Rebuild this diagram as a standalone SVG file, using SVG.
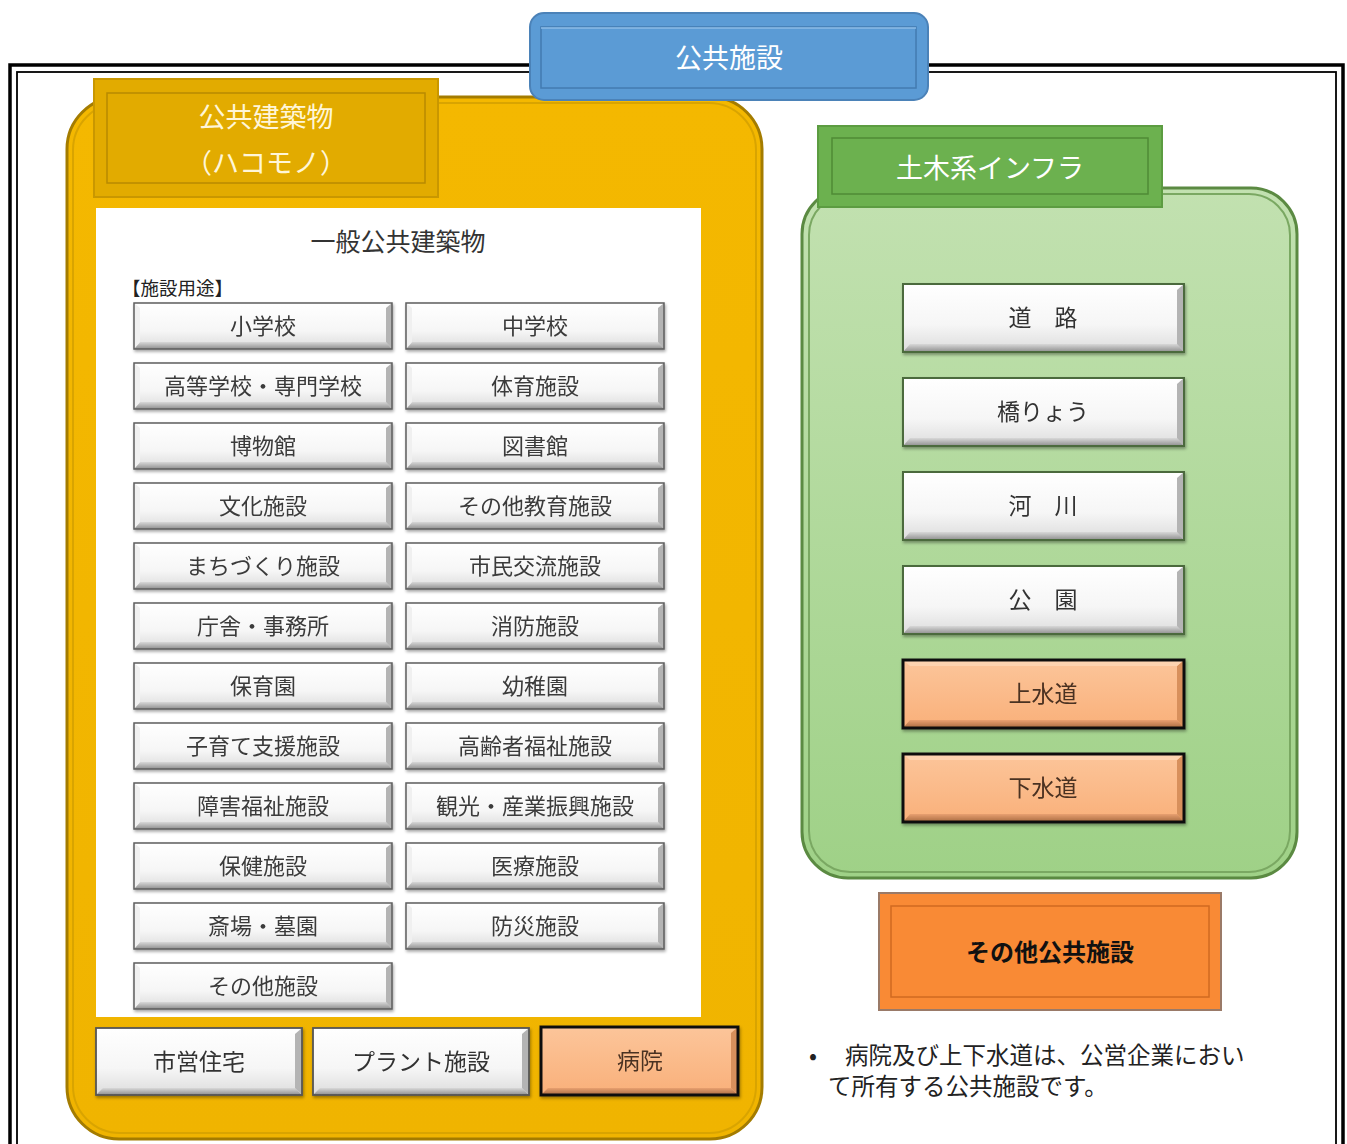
<svg xmlns="http://www.w3.org/2000/svg" xmlns:xlink="http://www.w3.org/1999/xlink" width="1347" height="1144" viewBox="0 0 1347 1144">
<style>
  text { font-family: "Noto Sans CJK JP", "Noto Sans", sans-serif; text-anchor: middle; dominant-baseline: central; transform: translateY(-2px); }
  .btxt { font-size: 22px; fill: #3a3a3a; }
  .rtxt { font-size: 23px; fill: #333; }
  .htxt { font-size: 27px; fill: #ffffff; }
  .ytxt { font-size: 27px; fill: #fff6d8; }
</style>
<defs>
  <linearGradient id="gBody" x1="0" y1="0" x2="0" y2="1">
    <stop offset="0" stop-color="#ffffff"/>
    <stop offset="0.6" stop-color="#f6f6f6"/>
    <stop offset="1" stop-color="#dcdcdc"/>
  </linearGradient>
  <linearGradient id="gBot" x1="0" y1="0" x2="0" y2="1">
    <stop offset="0" stop-color="#d8d8d8"/>
    <stop offset="1" stop-color="#8e8e8e"/>
  </linearGradient>
  <linearGradient id="gPeach" x1="0" y1="0" x2="0" y2="1">
    <stop offset="0" stop-color="#fcc59a"/>
    <stop offset="1" stop-color="#f9b07a"/>
  </linearGradient>
  <linearGradient id="gPeachBot" x1="0" y1="0" x2="0" y2="1">
    <stop offset="0" stop-color="#e8a070"/>
    <stop offset="1" stop-color="#a86a40"/>
  </linearGradient>
  <linearGradient id="gGreen" x1="0" y1="0" x2="0" y2="1">
    <stop offset="0" stop-color="#c2e1b0"/>
    <stop offset="1" stop-color="#9fd187"/>
  </linearGradient>
  <linearGradient id="gYellow" x1="0" y1="0" x2="0" y2="1">
    <stop offset="0" stop-color="#f4b800"/>
    <stop offset="1" stop-color="#f0b400"/>
  </linearGradient>
  <filter id="sh" x="-10%" y="-20%" width="120%" height="150%">
    <feDropShadow dx="1" dy="2" stdDeviation="1.5" flood-color="#000" flood-opacity="0.35"/>
  </filter>
  <g id="btnG">
    <rect width="258" height="46" fill="url(#gBody)"/>
    <polygon points="0,46 6,39 252,39 258,46" fill="url(#gBot)"/>
    <polygon points="258,0 252,5 252,39 258,46" fill="#b4b4b4"/>
    <polygon points="0,0 6,5 6,39 0,46" fill="#f0f0f0"/>
    <rect width="258" height="46" fill="none" stroke="#5e5e5e" stroke-width="1.5"/>
  </g>
  <g id="btnR">
    <rect width="281" height="68" fill="url(#gBody)"/>
    <polygon points="0,68 7,60 274,60 281,68" fill="url(#gBot)"/>
    <polygon points="281,0 274,6 274,60 281,68" fill="#b4b4b4"/>
    <rect width="281" height="68" fill="none" stroke="#4b6a3c" stroke-width="2"/>
  </g>
  <g id="btnP">
    <rect width="281" height="68" fill="url(#gPeach)"/>
    <polygon points="0,68 7,60 274,60 281,68" fill="url(#gPeachBot)"/>
    <polygon points="281,0 274,6 274,60 281,68" fill="#d8905c"/>
    <polygon points="0,0 7,6 274,6 281,0" fill="#fdd3b0"/>
    <rect width="281" height="68" fill="none" stroke="#111" stroke-width="3"/>
  </g>
</defs>

<rect width="1347" height="1144" fill="#ffffff"/>

<!-- outer double frame -->
<g id="frame" fill="none" stroke="#000">
  <rect x="10" y="65" width="1333" height="1100" stroke-width="3.5"/>
  <rect x="17" y="72" width="1319" height="1090" stroke-width="1.8"/>
</g>

<!-- yellow panel: 公共建築物 -->
<g id="panel-hakomono">
  <rect x="67" y="97" width="695" height="1042" rx="52" fill="url(#gYellow)" stroke="#a47c00" stroke-width="3"/>
  <rect x="73" y="103" width="683" height="1030" rx="47" fill="none" stroke="#d9a400" stroke-width="2"/>
</g>

<g id="header-hakomono">
  <rect x="94" y="79" width="344" height="118" fill="#e2ab00" stroke="#c99700" stroke-width="2"/>
  <rect x="107" y="93" width="318" height="90" fill="none" stroke="#b88a00" stroke-width="1.5"/>
  <text class="ytxt" x="266" y="117">公共建築物</text>
  <text class="ytxt" x="266" y="163">（ハコモノ）</text>
</g>

<g id="panel-general">
  <rect x="96" y="208" width="605" height="809" fill="#ffffff"/>
  <text x="398" y="242" style="font-size:25px;fill:#333">一般公共建築物</text>
  <text x="122" y="289" style="font-size:18.5px;fill:#222;text-anchor:start">【施設用途】</text>
</g>

<g id="facility-buttons" filter="url(#sh)">
  <g id="b-shogakko"><use href="#btnG" x="134" y="303"/><text class="btxt" x="263" y="326">小学校</text></g>
  <g id="b-chugakko"><use href="#btnG" x="406" y="303"/><text class="btxt" x="535" y="326">中学校</text></g>
  <g id="b-koto"><use href="#btnG" x="134" y="363"/><text class="btxt" x="263" y="386">高等学校・専門学校</text></g>
  <g id="b-taiiku"><use href="#btnG" x="406" y="363"/><text class="btxt" x="535" y="386">体育施設</text></g>
  <g id="b-hakubutsu"><use href="#btnG" x="134" y="423"/><text class="btxt" x="263" y="446">博物館</text></g>
  <g id="b-tosho"><use href="#btnG" x="406" y="423"/><text class="btxt" x="535" y="446">図書館</text></g>
  <g id="b-bunka"><use href="#btnG" x="134" y="483"/><text class="btxt" x="263" y="506">文化施設</text></g>
  <g id="b-kyoiku"><use href="#btnG" x="406" y="483"/><text class="btxt" x="535" y="506">その他教育施設</text></g>
  <g id="b-machi"><use href="#btnG" x="134" y="543"/><text class="btxt" x="263" y="566">まちづくり施設</text></g>
  <g id="b-shimin"><use href="#btnG" x="406" y="543"/><text class="btxt" x="535" y="566">市民交流施設</text></g>
  <g id="b-chosha"><use href="#btnG" x="134" y="603"/><text class="btxt" x="263" y="626">庁舎・事務所</text></g>
  <g id="b-shobo"><use href="#btnG" x="406" y="603"/><text class="btxt" x="535" y="626">消防施設</text></g>
  <g id="b-hoiku"><use href="#btnG" x="134" y="663"/><text class="btxt" x="263" y="686">保育園</text></g>
  <g id="b-yochi"><use href="#btnG" x="406" y="663"/><text class="btxt" x="535" y="686">幼稚園</text></g>
  <g id="b-kosodate"><use href="#btnG" x="134" y="723"/><text class="btxt" x="263" y="746">子育て支援施設</text></g>
  <g id="b-koreisha"><use href="#btnG" x="406" y="723"/><text class="btxt" x="535" y="746">高齢者福祉施設</text></g>
  <g id="b-shogai"><use href="#btnG" x="134" y="783"/><text class="btxt" x="263" y="806">障害福祉施設</text></g>
  <g id="b-kanko"><use href="#btnG" x="406" y="783"/><text class="btxt" x="535" y="806">観光・産業振興施設</text></g>
  <g id="b-hoken"><use href="#btnG" x="134" y="843"/><text class="btxt" x="263" y="866">保健施設</text></g>
  <g id="b-iryo"><use href="#btnG" x="406" y="843"/><text class="btxt" x="535" y="866">医療施設</text></g>
  <g id="b-saijo"><use href="#btnG" x="134" y="903"/><text class="btxt" x="263" y="926">斎場・墓園</text></g>
  <g id="b-bosai"><use href="#btnG" x="406" y="903"/><text class="btxt" x="535" y="926">防災施設</text></g>
  <g id="b-sonota"><use href="#btnG" x="134" y="963"/><text class="btxt" x="263" y="986">その他施設</text></g>
</g>

<g id="bottom-buttons" filter="url(#sh)">
  <g id="b-shiei">
    <rect x="96" y="1028" width="206" height="67" fill="url(#gBody)"/>
    <polygon points="96,1095 103,1088 295,1088 302,1095" fill="url(#gBot)"/>
    <polygon points="302,1028 295,1034 295,1088 302,1095" fill="#b4b4b4"/>
    <rect x="96" y="1028" width="206" height="67" fill="none" stroke="#555" stroke-width="1.8"/>
    <text x="199" y="1062" style="font-size:23px;fill:#333">市営住宅</text>
  </g>
  <g id="b-plant">
    <rect x="313" y="1028" width="216" height="67" fill="url(#gBody)"/>
    <polygon points="313,1095 320,1088 522,1088 529,1095" fill="url(#gBot)"/>
    <polygon points="529,1028 522,1034 522,1088 529,1095" fill="#b4b4b4"/>
    <rect x="313" y="1028" width="216" height="67" fill="none" stroke="#555" stroke-width="1.8"/>
    <text x="421" y="1062" style="font-size:23px;fill:#333">プラント施設</text>
  </g>
  <g id="b-byoin">
    <rect x="541" y="1027" width="197" height="68" fill="url(#gPeach)"/>
    <polygon points="541,1095 548,1088 731,1088 738,1095" fill="url(#gPeachBot)"/>
    <polygon points="738,1027 731,1033 731,1088 738,1095" fill="#d8905c"/>
    <rect x="541" y="1027" width="197" height="68" fill="none" stroke="#111" stroke-width="3"/>
    <text x="640" y="1061" style="font-size:23px;fill:#4a3020">病院</text>
  </g>
</g>

<!-- green panel: 土木系インフラ -->
<g id="panel-infra">
  <rect x="802" y="188" width="495" height="690" rx="46" fill="url(#gGreen)" stroke="#5b8a42" stroke-width="3"/>
  <rect x="809" y="194" width="481" height="678" rx="41" fill="none" stroke="#7aa862" stroke-width="2"/>
</g>
<g id="header-infra">
  <rect x="818" y="126" width="344" height="81" fill="#6cb14f" stroke="#5c9c41" stroke-width="2"/>
  <rect x="832" y="138" width="316" height="56" fill="none" stroke="#4f8b36" stroke-width="1.5"/>
  <text class="htxt" x="990" y="168">土木系インフラ</text>
</g>

<g id="infra-buttons" filter="url(#sh)">
  <g id="b-doro"><use href="#btnR" x="903" y="284"/><text class="rtxt" x="1043" y="318">道　路</text></g>
  <g id="b-kyoryo"><use href="#btnR" x="903" y="378"/><text class="rtxt" x="1043" y="412">橋りょう</text></g>
  <g id="b-kasen"><use href="#btnR" x="903" y="472"/><text class="rtxt" x="1043" y="506">河　川</text></g>
  <g id="b-koen"><use href="#btnR" x="903" y="566"/><text class="rtxt" x="1043" y="600">公　園</text></g>
  <g id="b-josui"><use href="#btnP" x="903" y="660"/><text class="rtxt" x="1043" y="694" style="fill:#4a3020">上水道</text></g>
  <g id="b-gesui"><use href="#btnP" x="903" y="754"/><text class="rtxt" x="1043" y="788" style="fill:#4a3020">下水道</text></g>
</g>

<g id="other-public">
  <rect x="879" y="893" width="342" height="117" fill="#f98a35" stroke="#9a7a68" stroke-width="2"/>
  <rect x="891" y="906" width="318" height="91" fill="none" stroke="#d06a20" stroke-width="1.5"/>
  <text x="1050" y="952" style="font-size:24px;font-weight:bold;fill:#111">その他公共施設</text>
</g>

<g id="note" style="font-size:23.5px;fill:#222">
  <text x="813" y="1056">•</text>
  <text x="845" y="1056" style="text-anchor:start">病院及び上下水道は、公営企業におい</text>
  <text x="828" y="1087" style="text-anchor:start">て所有する公共施設です。</text>
</g>

<!-- blue title: 公共施設 -->
<g id="title-public">
  <rect x="530" y="13" width="398" height="87" rx="14" fill="#5b9bd5" stroke="#4b82b8" stroke-width="2"/>
  <rect x="541" y="27" width="375" height="61" fill="none" stroke="#437bb0" stroke-width="1.5"/>
  <line x1="541" y1="28" x2="916" y2="28" stroke="#8cbbe6" stroke-width="1.5"/>
  <text class="htxt" x="729" y="58">公共施設</text>
</g>
</svg>
